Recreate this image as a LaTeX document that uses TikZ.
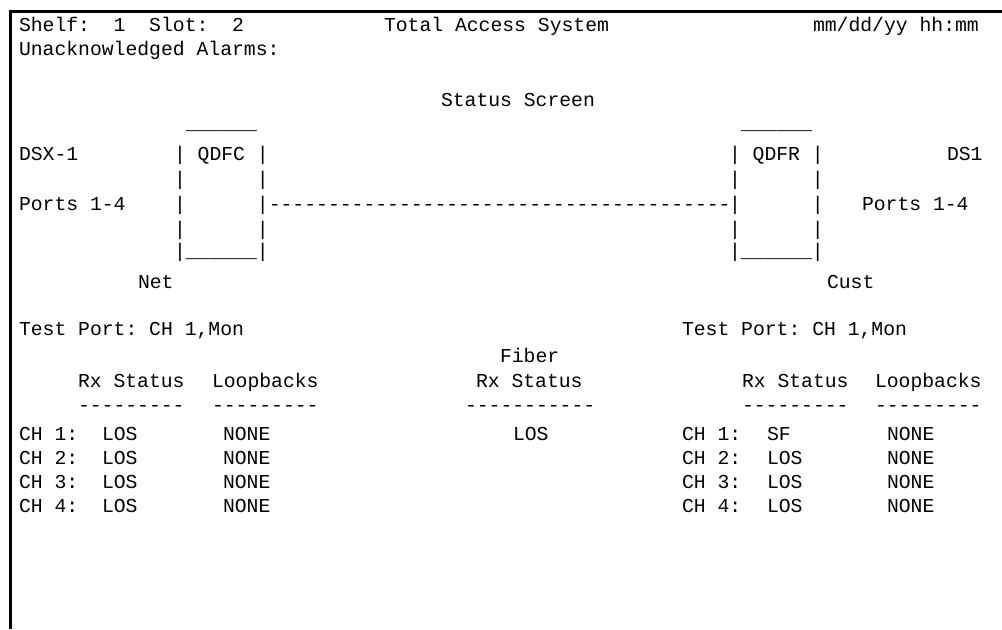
\documentclass[tikz,border=0pt]{standalone}
\usepackage{fontspec}
\setmonofont{Liberation Mono}
\begin{document}
\begin{tikzpicture}[x=0.75pt,y=-0.75pt,
	scr/.style={anchor=base west,inner sep=0pt,outer sep=0pt,
		font=\ttfamily\fontsize{14.8pt}{16pt}\selectfont,text=black},
	frame/.style={line width=2.25pt}]
	\useasboundingbox (0,0) rectangle (1002,629);
	\draw [frame] (10,629) -- (10,11) -- (1002,11);
	% header
	\node [scr] (shelf) at (19,31.5) {Shelf:\ \ 1\ \ Slot:\ \ 2};
	\node [scr] (title) at (384,31.5) {Total Access System};
	\node [scr] (clock) at (813,31.5) {mm/dd/yy hh:mm};
	\node [scr] (alarms) at (19,55.5) {Unacknowledged Alarms:};
	\node [scr] (screen) at (441,106) {Status Screen};
	% QDFC / QDFR boxes
	\node [scr] (qdfctop) at (186,129) {\_\_\_\_\_\_};
	\node [scr] (qdfrtop) at (741,129) {\_\_\_\_\_\_};
	\node [scr] (dsx) at (19,160) {DSX-1};
	\node [scr] (qdfc) at (174,160) {|\ QDFC\ |};
	\node [scr] (qdfr) at (729,160) {|\ QDFR\ |};
	\node [scr] (ds) at (947,160) {DS1};
	\node [scr] (qdfcb) at (174,185) {|\ \ \ \ \ \ |};
	\node [scr] (qdfrb) at (729,185) {|\ \ \ \ \ \ |};
	\node [scr] (netports) at (19,210) {Ports 1-4};
	\node [scr] (qdfcc) at (174,210) {|\ \ \ \ \ \ |};
	\node [scr] (fiber) at (268.8,210) {---------------------------------------};
	\node [scr] (qdfrc) at (729,210) {|\ \ \ \ \ \ |};
	\node [scr] (custports) at (862,210) {Ports 1-4};
	\node [scr] (qdfcd) at (174,235) {|\ \ \ \ \ \ |};
	\node [scr] (qdfrd) at (729,235) {|\ \ \ \ \ \ |};
	\node [scr] (qdfcbot) at (174,257) {|\_\_\_\_\_\_|};
	\node [scr] (qdfrbot) at (729,257) {|\_\_\_\_\_\_|};
	\node [scr] (net) at (138,288) {Net};
	\node [scr] (cust) at (827,288) {Cust};
	% test ports and column heads
	\node [scr] (nettest) at (19,335) {Test Port: CH 1,Mon};
	\node [scr] (custtest) at (682,335) {Test Port: CH 1,Mon};
	\node [scr] (fiberhead) at (500,362) {Fiber};
	\node [scr] (netrx) at (78,387) {Rx Status};
	\node [scr] (netloop) at (212,387) {Loopbacks};
	\node [scr] (fiberrx) at (476,387) {Rx Status};
	\node [scr] (custrx) at (742,387) {Rx Status};
	\node [scr] (custloop) at (875,387) {Loopbacks};
	\node [scr] (netrxline) at (78,411) {---------};
	\node [scr] (netloopline) at (212,411) {---------};
	\node [scr] (fiberline) at (465,411) {-----------};
	\node [scr] (custrxline) at (742,411) {---------};
	\node [scr] (custloopline) at (875,411) {---------};
	% channel rows
	\node [scr] (fiberlos) at (513,440) {LOS};
	\foreach \ch/\y/\cs in {1/440/SF,2/464/LOS,3/488/LOS,4/512/LOS} {
		\node [scr] (netch\ch) at (19,\y) {CH \ch:};
		\node [scr] (netst\ch) at (102,\y) {LOS};
		\node [scr] (netlb\ch) at (223,\y) {NONE};
		\node [scr] (custch\ch) at (682,\y) {CH \ch:};
		\node [scr] (custst\ch) at (767,\y) {\cs};
		\node [scr] (custlb\ch) at (887,\y) {NONE};
	}
\end{tikzpicture}
\end{document}
